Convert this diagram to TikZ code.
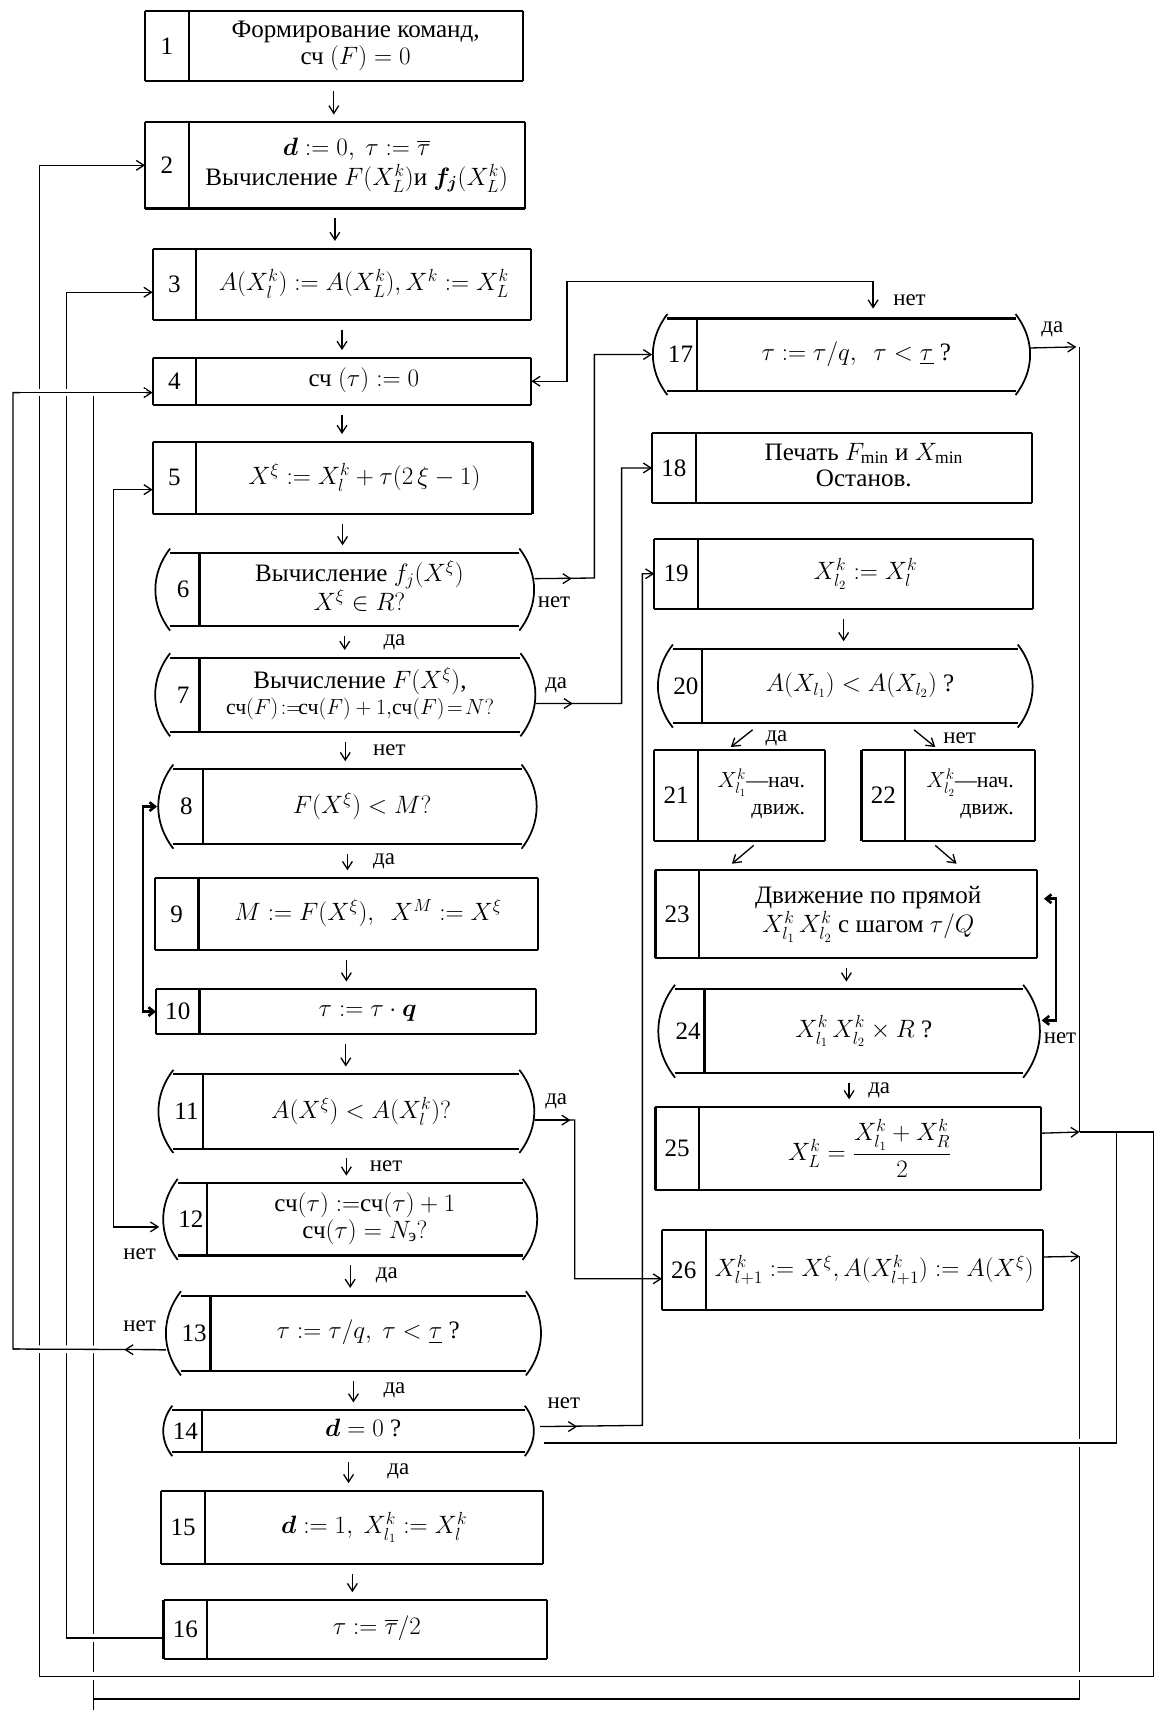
\RequirePackage{fix-cm}
\documentclass[tikz,border=0pt]{standalone}
\usepackage{amsmath}
\usepackage{amssymb}
\usepackage{bm}
\usepackage{fontspec}
\setmainfont{Liberation Serif}
\usetikzlibrary{arrows.meta, calc, positioning}

% text right of the number column
\newcommand{\bx}[1]{\kern40pt\begin{tabular}{@{}c@{}}#1\end{tabular}}
\newcommand{\cx}[1]{\kern27pt\begin{tabular}{@{}c@{}}#1\end{tabular}}
\newcommand{\sm}{\fontsize{20}{21}\selectfont}

\tikzset{
  bline/.style={line width=2pt},
  aline/.style={line width=1.6pt},
  boxbase/.style={inner sep=0pt, anchor=north west, font=\fontsize{23}{24}\selectfont},
  blk/.style={boxbase,
    append after command={
      (\tikzlastnode.north west) edge[bline] (\tikzlastnode.north east)
      (\tikzlastnode.south west) edge[bline] (\tikzlastnode.south east)
      (\tikzlastnode.north west) edge[bline] (\tikzlastnode.south west)
      (\tikzlastnode.north east) edge[bline] (\tikzlastnode.south east)
      ([xshift=40pt]\tikzlastnode.north west) edge[bline] ([xshift=40pt]\tikzlastnode.south west)
    }},
  cond/.style={boxbase,
    append after command={
      (\tikzlastnode.north west) edge[bline] (\tikzlastnode.north east)
      (\tikzlastnode.south west) edge[bline] (\tikzlastnode.south east)
      ([yshift=4pt]\tikzlastnode.north west) edge[aline, bend right=38] ([yshift=-4pt]\tikzlastnode.south west)
      ([yshift=4pt]\tikzlastnode.north east) edge[aline, bend left=38] ([yshift=-4pt]\tikzlastnode.south east)
      ([xshift=27pt]\tikzlastnode.north west) edge[bline] ([xshift=27pt]\tikzlastnode.south west)
    }},
  nr/.style={anchor=center, xshift=20pt, inner sep=0pt, font=\fontsize{23}{24}\selectfont},
  nrc/.style={anchor=center, xshift=12pt, inner sep=0pt, font=\fontsize{23}{24}\selectfont},
}

\begin{document}
\begin{tikzpicture}[x=1pt, y=-1pt, line width=1.2pt,
    >={Straight Barb[length=7pt,width=9pt]},
    flow/.style={->, shorten <=9pt, shorten >=7pt},
    ret/.style={<->, line width=2.4pt, >={Straight Barb[length=5pt,width=8pt]}},
    lbl/.style={font=\fontsize{21}{22}\selectfont, inner sep=1pt},
    xgap/.style={preaction={draw=white, line width=7pt, shorten <=6pt, shorten >=6pt}}]
\useasboundingbox (0,0) rectangle (1063,1568);

% left column
\node[blk, minimum width=345, minimum height=63, label={[nr]180:1}] (b1) at (133,10)
  {\bx{Формирование команд,\\ сч $(F)=0$}};
\node[blk, minimum width=347, minimum height=78, label={[nr]180:2}] (b2) at (133,112)
  {\bx{$\bm{d}:=0,\ \tau:=\overline{\tau}$\\ Вычисление $F(X_L^k)$и $\bm{f_j}(X_L^k)$}};
\node[blk, minimum width=346, minimum height=64, label={[nr]180:3}] (b3) at (140,228)
  {\bx{$A(X_l^k):=A(X_L^k),X^k:=X_L^k$}};
\node[blk, minimum width=346, minimum height=42, label={[nr]180:4}] (b4) at (140,328)
  {\bx{сч $(\tau):=0$}};
\node[blk, minimum width=347, minimum height=65, label={[nr]180:5}] (b5) at (140,405)
  {\bx{$X^\xi:=X_l^k+\tau(2\,\xi-1)$}};
\node[cond, minimum width=319, minimum height=66, label={[nrc]180:6}] (b6) at (156,507)
  {\cx{Вычисление $f_j(X^\xi)$\\ $X^\xi\in R?$}};
\node[cond, minimum width=320, minimum height=67, label={[nrc]180:7}] (b7) at (156,603)
  {\cx{Вычисление $F(X^\xi)$,\\ {\sm сч$(F)\!:=\!$сч$(F)+1,$сч$(F)\!=\!N?$}}};
\node[cond, minimum width=318, minimum height=68, label={[nrc]180:8}] (b8) at (159,705)
  {\cx{$F(X^\xi)<M?$}};
\node[blk, minimum width=350, minimum height=65, label={[nr]180:9}] (b9) at (142,805)
  {\bx{$M:=F(X^\xi),\ \ X^M:=X^\xi$}};
\node[blk, minimum width=347, minimum height=40, label={[nr]180:10}] (b10) at (143,907)
  {\bx{$\tau:=\tau\cdot\bm{q}$}};
\node[cond, minimum width=316, minimum height=67, label={[nrc]180:11}] (b11) at (159,985)
  {\cx{$A(X^\xi)<A(X_l^k)?$}};
\node[cond, minimum width=315, minimum height=65, label={[nrc]180:12}] (b12) at (163,1085)
  {\cx{сч$(\tau):=$сч$(\tau)+1$\\ сч$(\tau)=N_{\text{э}}?$}};
\node[cond, minimum width=315, minimum height=68, label={[nrc]180:13}] (b13) at (166,1188)
  {\cx{$\tau:=\tau/q,\ \tau<\underline{\tau}$ ?}};
\node[cond, minimum width=322, minimum height=37, label={[nrc]180:14}] (b14) at (158,1293)
  {\cx{$\bm{d}=0$ ?}};
\node[blk, minimum width=349, minimum height=66, label={[nr]180:15}] (b15) at (148,1367)
  {\bx{$\bm{d}:=1,\ X_{l_1}^k:=X_l^k$}};
\node[blk, minimum width=350, minimum height=53, label={[nr]180:16}] (b16) at (150,1467)
  {\bx{$\tau:=\overline{\tau}/2$}};

% right column
\node[cond, minimum width=318, minimum height=65, label={[nrc]180:17}] (b17) at (612,292)
  {\cx{$\tau:=\tau/q,\ \ \tau<\underline{\tau}$ ?}};
\node[blk, minimum width=347, minimum height=63, label={[nr]180:18}] (b18) at (598,397)
  {\bx{Печать $F_{\min}$ и $X_{\min}$\\ Останов.}};
\node[blk, minimum width=346, minimum height=63, label={[nr]180:19}] (b19) at (600,494)
  {\bx{$X_{l_2}^k:=X_l^k$}};
\node[cond, minimum width=315, minimum height=67, label={[nrc]180:20}] (b20) at (617,595)
  {\cx{$A(X_{l_1})<A(X_{l_2})$ ?}};
\node[blk, minimum width=155, minimum height=82, label={[nr]180:21}] (b21) at (600,688)
  {\bx{\sm $X_{l_1}^k$—нач.\\ \sm\hfill движ.}};
\node[blk, minimum width=158, minimum height=82, label={[nr]180:22}] (b22) at (790,688)
  {\bx{\sm $X_{l_2}^k$—нач.\\ \sm\hfill движ.}};
\node[blk, minimum width=349, minimum height=79, label={[nr]180:23}] (b23) at (601,798)
  {\bx{Движение по прямой\\ $X_{l_1}^k\,X_{l_2}^k$ с шагом $\tau/Q$}};
\node[cond, minimum width=318, minimum height=76, label={[nrc]180:24}] (b24) at (619,907)
  {\cx{$X_{l_1}^k\,X_{l_2}^k\times R$ ?}};
\node[blk, minimum width=352, minimum height=75, label={[nr]180:25}] (b25) at (601,1015)
  {\bx{$X_L^k=\dfrac{X_{l_1}^k+X_R^k}{2}$}};
\node[blk, minimum width=348, minimum height=72, label={[nr]180:26}] (b26) at (607,1128)
  {\bx{$X_{l+1}^k:=X^\xi,A(X_{l+1}^k):=A(X^\xi)$}};

% bus corners
\coordinate (a4) at (12,360);
\coordinate (a13) at (12,1237);
\coordinate (c3) at (61,268);
\coordinate (c16) at (61,1502);
\coordinate (e5) at (104,449);
\coordinate (e12) at (104,1125);
\coordinate (t4) at (520,258);
\coordinate (r17) at (990,318);
\coordinate (j25) at (990,1038);
\coordinate (j24) at (1024,1038);
\coordinate (r25) at (1058,1038);
\coordinate (r26) at (990,1152);
\coordinate (bl) at (36,1537);
\coordinate (dl) at (86,1558);
\coordinate (dt) at (86,360);
\coordinate (db) at (86,1568);
\coordinate (v6) at (545,530);
\coordinate (v7) at (570,645);
\coordinate (v11) at (527,1027);
\coordinate (v14) at (589,1307);
\coordinate (k0) at ($(b14.east)+(18,11)$);

% straight flow
\foreach \a/\b in {b1/b2,b2/b3,b3/b4,b4/b5,b5/b6,b9/b10,b10/b11,b15/b16,b19/b20,b23/b24}
  \draw[flow] (\a.south) -- (\a.south |- \b.north);
\draw[flow] (b6.south) -- (b6.south |- b7.north) node[lbl, midway, right=34pt] (l67) {да};
\draw[flow] (b7.south) -- (b7.south |- b8.north) node[lbl, midway, right=24pt] (l78) {нет};
\draw[flow] (b8.south) -- (b8.south |- b9.north) node[lbl, midway, right=22pt] (l89) {да};
\draw[flow] (b11.south) -- (b11.south |- b12.north) node[lbl, midway, right=20pt] (l1112) {нет};
\draw[flow] (b12.south) -- (b12.south |- b13.north) node[lbl, midway, right=22pt] (l1213) {да};
\draw[flow] (b13.south) -- (b13.south |- b14.north) node[lbl, midway, right=26pt] (l1314) {да};
\draw[flow] (b14.south) -- (b14.south |- b15.north) node[lbl, midway, right=34pt] (l1415) {да};
\draw[flow] (b24.south) -- (b24.south |- b25.north) node[lbl, midway, right=16pt] (l2425) {да};

% 20 -> 21, 22 -> 23
\draw[->] ($(b20.south)+(-85,6)$) -- ($(b21.north)+(-8,-3)$);
\draw[->] ($(b20.south)+(63,6)$) -- ($(b22.north)+(-12,-3)$);
\draw[->] ($(b21.south)+(13,4)$) -- ($(b23.north)+(-105,-6)$);
\draw[->] ($(b22.south)+(-12,4)$) -- ($(b23.north)+(101,-6)$);
\node[lbl] (l2021) at (712,677) {да};
\node[lbl] (l2022) at (880,677) {нет};

% loops
\draw[ret] ($(b8.west)+(-15,0)$) -- ++(-13,0) |- (b10.west);
\draw[ret] ($(b23.east)+(6,-14)$) -- ++(11,0) |- ($(b24.east)+(17,-10)$);
\node[lbl] (l24) at (972,952) {нет};
\draw[<->] (b5.west |- e5) -- (e5) -- (e12) -- ($(b12.west |- e12)+(-17,0)$);
\node[lbl] (l12) at (128,1150) {нет};

% 17 <-> 4
\draw[<->] (b4.east) -| (t4) -| ($(b17.north)+(29,-9)$);
\node[lbl] (l17) at (834,275) {нет};

% exits to the right column
\draw[->] ($(b6.east)+(14,-10)$) -- (v6) |- ($(b17.west)+(-14,0)$);
\node[lbl] (l6) at (508,552) {нет};
\draw[->] ($(b7.east)+(14,8)$) -- (v7) |- (b18.west);
\node[lbl] (l7) at (510,628) {да};
\draw[->] ($(b11.east)+(14,8)$) -- (v11) |- ($(b26.west)+(0,8)$);
\node[lbl] (l11) at (510,1010) {да};
\draw[->] ($(b14.east)+(14,-4)$) -- (v14) |- (b19.west);
\node[lbl] (l14) at (517,1287) {нет};
\draw (k0) -| (j24);

% right side returns
\draw[->, shorten >=3pt] ($(b17.east)+(13,-6)$) -- (r17);
\node[lbl] (l17b) at (965,302) {да};
\draw (r17) -- (j25);
\draw[->] ($(b25.east)+(0,-14)$) -- (j25);
\draw[->] (j25) -- (r25) |- (bl) |- (b2.west);
\draw[->] ($(b26.east)+(0,-12)$) -- (r26);
\draw (r26) |- (dl);

% left buses
\draw (dt) -- (db);
\draw[->] ($(b13.west)+(-14,15)$) -- (a13) -- (a4) -- (b4.west |- a4);
\node[lbl] (l13) at (128,1216) {нет};
\draw[->] (b16.west |- c16) -- (c16) -- (c3) -- (b3.west |- c3);

% crossings
\draw[xgap] (a4) -- (b4.west |- a4);
\draw[xgap] (a13) -- ($(b13.west)+(-14,15)$);
\draw[xgap] (c16) -- (b16.west |- c16);
\draw[xgap] (bl) -- (r25 |- bl);
\draw[xgap] (k0) -- (k0 -| j24);

% short arrow heads at the exits
\draw[->] ($(b13.west)+(-14,15)$) -- ++(-38,0);
\draw[->] ($(b6.east)+(14,-10)$) -- ++(34,0);
\draw[->] ($(b7.east)+(14,8)$) -- ++(34,0);
\draw[->] ($(b11.east)+(14,8)$) -- ++(33,0);
\draw[->] ($(b14.east)+(14,-4)$) -- ++(34,0);
\end{tikzpicture}
\end{document}
